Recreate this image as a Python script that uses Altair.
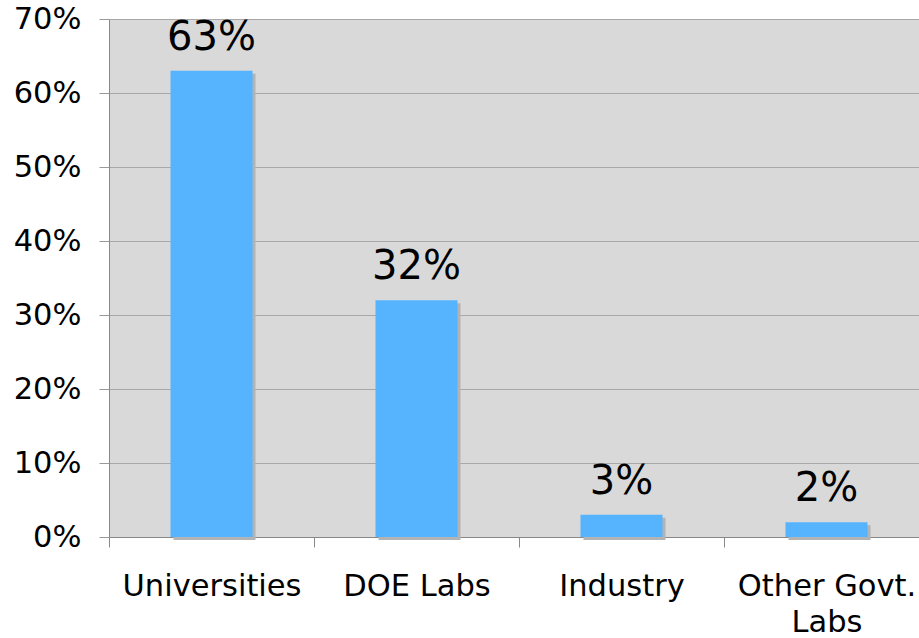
import altair as alt
import pandas as pd

categories = ["Universities", "DOE Labs", "Industry", "Other Govt.|Labs"]
shares = [0.63, 0.32, 0.03, 0.02]
labels = ["63%", "32%", "3%", "2%"]

df = pd.DataFrame({"cat": categories, "share": shares, "label": labels})

FONT = "DejaVu Sans"

x = alt.X(
    "cat:N",
    sort=categories,
    scale=alt.Scale(paddingInner=0, paddingOuter=0, range=[0, 820]),
    axis=alt.Axis(
        title=None,
        labelAngle=0,
        labelFontSize=30.5,
        labelFont=FONT,
        labelColor="black",
        labelPadding=24,
        labelLineHeight=36,
        labelExpr="split(datum.label, '|')",
        tickBand="extent",
        tickSize=10,
        tickColor="#888888",
        domainColor="#888888",
        labelLimit=400,
    ),
)
y = alt.Y(
    "share:Q",
    scale=alt.Scale(domain=[0, 0.7], nice=False),
    axis=alt.Axis(
        title=None,
        format=".0%",
        values=[0, 0.1, 0.2, 0.3, 0.4, 0.5, 0.6, 0.7],
        labelFontSize=30.5,
        labelFont=FONT,
        labelColor="black",
        labelPadding=18,
        tickSize=10,
        tickColor="#999999",
        domainColor="#888888",
        gridColor="#a8a8a8",
        grid=True,
    ),
)

base = alt.Chart(df)
shadow = base.mark_bar(
    width=alt.RelativeBandSize(0.4), color="#b3b3b3", xOffset=3, yOffset=3
).encode(x=x, y=y)
bars = base.mark_bar(width=alt.RelativeBandSize(0.4), color="#56b4ff").encode(x=x, y=y)
text = base.mark_text(
    fontSize=40, font=FONT, color="black", baseline="alphabetic", dy=-21
).encode(x=x, y=y, text="label:N")

chart = (
    alt.layer(shadow, bars, text)
    .properties(
        width=810,
        height=518,
        autosize=alt.AutoSizeParams(type="none"),
        padding={"left": 109, "top": 19, "right": 0, "bottom": 101},
        background="white",
    )
    .configure_view(fill="#d9d9d9", stroke=None)
)

chart.save("out.html", embed_options={"renderer": "svg", "actions": False})
